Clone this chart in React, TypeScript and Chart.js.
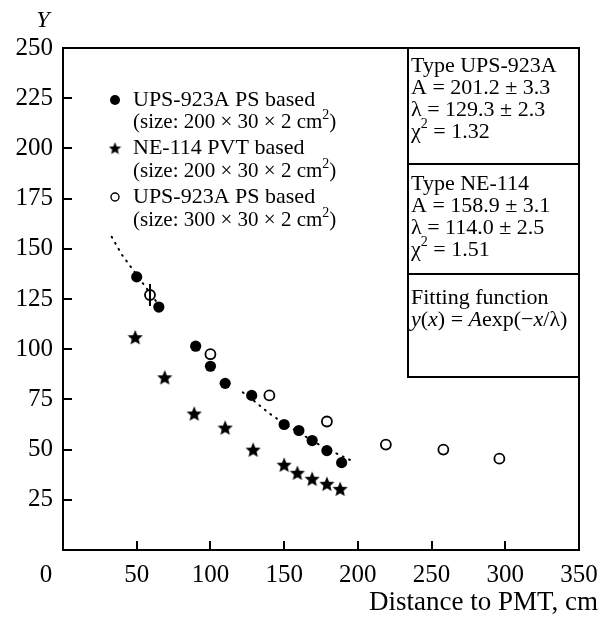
import React, { useEffect, useRef } from 'react';
import { Chart, registerables } from 'chart.js';
Chart.register(...registerables);

const FONT = '"Liberation Serif", "Times New Roman", serif';

// Axis ticks
const xTickValues = [0, 50, 100, 150, 200, 250, 300, 350];
const yTickValues = [0, 25, 50, 75, 100, 125, 150, 175, 200, 225, 250];

// UPS-923A PS based, 200 x 30 x 2 (filled circles)
const upsX = [50, 65, 90, 100, 110, 128, 150, 160, 169, 179, 189];
const upsY = [136, 121, 101.5, 91.5, 83, 77, 62.5, 59.5, 54.5, 49.5, 43.5];

// NE-114 PVT based (stars)
const neX = [49, 69, 89, 110, 129, 150, 159, 169, 179, 188];
const neY = [106, 86, 68, 61, 50, 42.5, 38.5, 35.5, 33, 30.5];

// UPS-923A PS based, 300 x 30 x 2 (open circles)
const bigX = [59, 100, 140, 179, 219, 258, 296];
const bigY = [127, 97.5, 77, 64, 52.5, 50, 45.5];
const bigErr = [5.5, 0, 0, 0, 0, 0, 0];

// Dotted fit curve (gap where not drawn)
const fitX = [33, 40, 50, 58, 66, 95, 122, 130, 140, 150, 160, 170, 180, 190, 197];
const fitY = [156, 147, 137, 129, 121, null, 78.5, 74, 68, 63, 58.5, 54, 50, 46.5, 44];

// Legend & box texts
type Run = { t: string; i?: boolean; sup?: boolean };
const legendLines: Run[][] = [
  [{ t: 'UPS-923A PS based' }],
  [{ t: '(size: 200 × 30 × 2 cm' }, { t: '2', sup: true }, { t: ')' }],
  [{ t: 'NE-114 PVT based' }],
  [{ t: '(size: 200 × 30 × 2 cm' }, { t: '2', sup: true }, { t: ')' }],
  [{ t: 'UPS-923A PS based' }],
  [{ t: '(size: 300 × 30 × 2 cm' }, { t: '2', sup: true }, { t: ')' }],
];
const legendLineY = [100, 122, 148, 171, 197, 220];
const legendLineSize = [22, 21, 22, 21, 22, 21];

const boxLines: Run[][] = [
  [{ t: 'Type UPS-923A' }],
  [{ t: 'A = 201.2 ± 3.3' }],
  [{ t: 'λ = 129.3 ± 2.3' }],
  [{ t: 'χ' }, { t: '2', sup: true }, { t: ' = 1.32' }],
  [{ t: 'Type NE-114' }],
  [{ t: 'A = 158.9 ± 3.1' }],
  [{ t: 'λ = 114.0 ± 2.5' }],
  [{ t: 'χ' }, { t: '2', sup: true }, { t: ' = 1.51' }],
  [{ t: 'Fitting function' }],
  [{ t: 'y', i: true }, { t: '(' }, { t: 'x', i: true }, { t: ') = ' }, { t: 'A', i: true }, { t: 'exp(−' }, { t: 'x', i: true }, { t: '/λ)' }],
];
const boxLineY = [66, 88, 110, 132, 184, 206, 228, 250, 298, 320];

function drawRuns(ctx: CanvasRenderingContext2D, runs: Run[], x: number, y: number, size: number) {
  let cx = x;
  ctx.textAlign = 'left';
  ctx.textBaseline = 'middle';
  for (const r of runs) {
    const fs = r.sup ? Math.round(size * 0.65) : size;
    ctx.font = `${r.i ? 'italic ' : ''}${fs}px ${FONT}`;
    const dy = r.sup ? -size * 0.33 : 0;
    ctx.fillText(r.t, cx, y + dy);
    cx += ctx.measureText(r.t).width;
  }
}

function makeStar(size: number): HTMLCanvasElement {
  const c = document.createElement('canvas');
  c.width = size;
  c.height = size;
  const g = c.getContext('2d')!;
  const R = size / 2;
  const r = R * 0.45;
  g.beginPath();
  for (let k = 0; k < 10; k++) {
    const rad = k % 2 === 0 ? R : r;
    const a = -Math.PI / 2 + (k * Math.PI) / 5;
    const px = R + rad * Math.cos(a);
    const py = R + 0.8 + rad * Math.sin(a);
    if (k === 0) g.moveTo(px, py);
    else g.lineTo(px, py);
  }
  g.closePath();
  g.fillStyle = '#000';
  g.fill();
  return c;
}

const decor = {
  id: 'decor',
  afterDatasetsDraw(chart: any) {
    const ctx: CanvasRenderingContext2D = chart.ctx;
    const { left, right, top, bottom } = chart.chartArea;
    const xs = chart.scales.x;
    const ys = chart.scales.y;
    ctx.save();
    ctx.strokeStyle = '#000';
    ctx.fillStyle = '#000';
    // error bars
    ctx.lineWidth = 2;
    bigX.forEach((xv, i) => {
      const e = bigErr[i];
      if (!e) return;
      const px = xs.getPixelForValue(xv);
      ctx.beginPath();
      ctx.moveTo(px, ys.getPixelForValue(bigY[i] + e));
      ctx.lineTo(px, ys.getPixelForValue(bigY[i] - e));
      ctx.stroke();
    });
    // frame
    ctx.lineWidth = 2;
    ctx.strokeRect(left, top, right - left, bottom - top);
    // inward ticks
    xTickValues.forEach((v) => {
      if (v === 0 || v === 350) return;
      const px = Math.round(xs.getPixelForValue(v));
      ctx.beginPath();
      ctx.moveTo(px, bottom);
      ctx.lineTo(px, bottom - 9);
      ctx.stroke();
    });
    yTickValues.forEach((v) => {
      if (v === 0 || v === 250) return;
      const py = Math.round(ys.getPixelForValue(v));
      ctx.beginPath();
      ctx.moveTo(left, py);
      ctx.lineTo(left + 9, py);
      ctx.stroke();
    });
    // origin label
    ctx.font = `25px ${FONT}`;
    ctx.textAlign = 'center';
    ctx.textBaseline = 'middle';
    ctx.fillText('0', 46, 575);
    // axis titles
    ctx.font = `italic 24px ${FONT}`;
    ctx.fillText('Y', 43, 21);
    ctx.font = `27px ${FONT}`;
    ctx.textAlign = 'right';
    ctx.fillText('Distance to PMT, cm', 598, 603);
    // legend
    ctx.beginPath();
    ctx.arc(115, legendLineY[0], 5, 0, Math.PI * 2);
    ctx.fill();
    const st = makeStar(13);
    ctx.drawImage(st, 115 - 6.5, legendLineY[2] - 6.5);
    ctx.lineWidth = 1.4;
    ctx.beginPath();
    ctx.arc(115, legendLineY[4], 4, 0, Math.PI * 2);
    ctx.stroke();
    ctx.fillStyle = '#000';
    legendLines.forEach((runs, i) => drawRuns(ctx, runs, 133, legendLineY[i], legendLineSize[i]));
    // parameter box
    const bx = 408;
    ctx.lineWidth = 2;
    ctx.beginPath();
    ctx.moveTo(bx, top);
    ctx.lineTo(bx, 377);
    ctx.lineTo(right, 377);
    ctx.moveTo(bx, 164);
    ctx.lineTo(right, 164);
    ctx.moveTo(bx, 274);
    ctx.lineTo(right, 274);
    ctx.stroke();
    boxLines.forEach((runs, i) => drawRuns(ctx, runs, 411, boxLineY[i], 22));
    ctx.restore();
  },
};

export default function App() {
  const ref = useRef<HTMLCanvasElement | null>(null);
  useEffect(() => {
    if (!ref.current) return;
    const star = makeStar(16);
    const chart = new Chart(ref.current, {
      type: 'scatter',
      data: {
        datasets: [
          {
            label: 'UPS-923A 200',
            data: upsX.map((x, i) => ({ x, y: upsY[i] })),
            pointStyle: 'circle',
            pointRadius: 5.6,
            backgroundColor: '#000',
            borderColor: '#000',
            borderWidth: 0,
            showLine: false,
          },
          {
            label: 'NE-114',
            data: neX.map((x, i) => ({ x, y: neY[i] })),
            pointStyle: star as any,
            pointRadius: 8,
            backgroundColor: '#000',
            borderColor: '#000',
            showLine: false,
          },
          {
            label: 'UPS-923A 300',
            data: bigX.map((x, i) => ({ x, y: bigY[i] })),
            pointStyle: 'circle',
            pointRadius: 5,
            backgroundColor: '#fff',
            borderColor: '#000',
            borderWidth: 1.8,
            showLine: false,
          },
          {
            label: 'fit',
            data: fitX.map((x, i) => ({ x, y: fitY[i] as any })),
            showLine: true,
            pointRadius: 0,
            borderColor: '#000',
            borderWidth: 2,
            borderDash: [1, 6],
            borderCapStyle: 'round',
            spanGaps: false,
            fill: false,
          },
        ],
      },
      options: {
        animation: false,
        responsive: false,
        devicePixelRatio: 1,
        layout: { padding: { top: 48, right: 29, left: 0, bottom: 0 } },
        plugins: { legend: { display: false }, tooltip: { enabled: false } },
        scales: {
          x: {
            type: 'linear',
            min: 0,
            max: 350,
            afterFit: (s: any) => { s.height = 70; },
            afterBuildTicks: (s: any) => { s.ticks = xTickValues.map((v) => ({ value: v })); },
            grid: { display: false, drawTicks: false },
            border: { display: false },
            ticks: {
              autoSkip: false,
              padding: 10,
              color: '#000',
              font: { family: FONT, size: 25 },
              callback: (v: any) => (v === 0 ? '' : String(v)),
            },
          },
          y: {
            type: 'linear',
            min: 0,
            max: 250,
            afterFit: (s: any) => { s.width = 63; },
            afterBuildTicks: (s: any) => { s.ticks = yTickValues.map((v) => ({ value: v })); },
            grid: { display: false, drawTicks: false },
            border: { display: false },
            ticks: {
              autoSkip: false,
              padding: 10,
              color: '#000',
              font: { family: FONT, size: 25 },
              callback: (v: any) => (v === 0 ? '' : String(v)),
            },
          },
        },
      },
      plugins: [decor],
    });
    return () => chart.destroy();
  }, []);
  return (
    <div style={{ position: 'absolute', left: 0, top: 0, width: 608, height: 620, background: '#fff' }}>
      <canvas ref={ref} width={608} height={620} />
    </div>
  );
}
